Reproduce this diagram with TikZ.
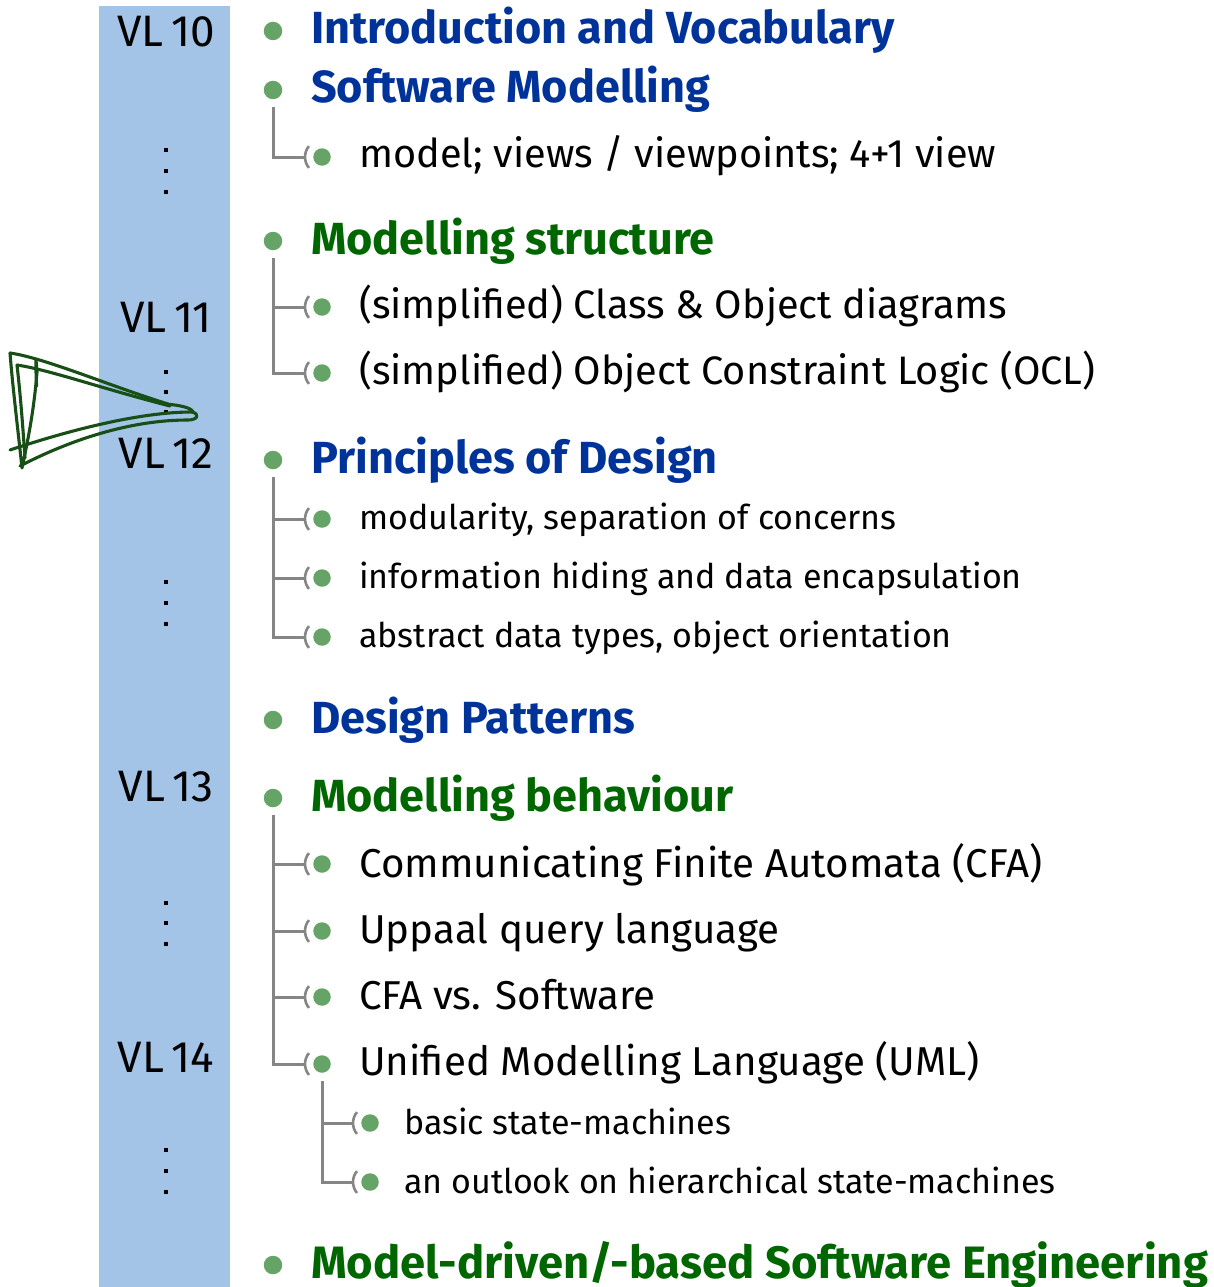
\documentclass[tikz,border=0pt]{standalone}
\usepackage{fontspec}
\setmainfont{Fira Sans}
\definecolor{bandblue}{HTML}{A3C4E6}
\definecolor{headblue}{HTML}{00339A}
\definecolor{headgreen}{HTML}{006600}
\definecolor{bulgreen}{HTML}{66A366}
\definecolor{treegray}{HTML}{858585}
\definecolor{scribgreen}{HTML}{174F17}
\newcommand{\fsz}[1]{\fontsize{#1}{#1}\selectfont}
\begin{document}
\begin{tikzpicture}[x=1pt,y=-1pt,
  bul/.style={circle,fill=bulgreen,inner sep=0pt,minimum size=18.5pt},
  sbul/.style={circle,fill=bulgreen,inner sep=0pt,minimum size=17.5pt},
  hb/.style={anchor=base west,inner sep=0pt,text=headblue,font=\fsz{45}\bfseries},
  hg/.style={anchor=base west,inner sep=0pt,text=headgreen,font=\fsz{45}\bfseries},
  ita/.style={anchor=base west,inner sep=0pt,text=black,font=\fsz{39.7}},
  itb/.style={anchor=base west,inner sep=0pt,text=black,font=\fsz{34}},
  itc/.style={anchor=base west,inner sep=0pt,text=black,font=\fsz{40.3}},
  vl/.style={anchor=base,inner sep=0pt,font=\fsz{44}},
  vdot/.style={rectangle,fill=black,inner sep=0pt,minimum size=4pt},
  tree/.style={draw=treegray,line width=3pt},
  paren/.style={draw=treegray,line width=2.6pt},
  scrib/.style={draw=scribgreen,line width=3.1pt,line cap=round,line join=round}]
\useasboundingbox (0,0) rectangle (1213,1287);
% band
\fill[bandblue] (99,6) rectangle (230,1287);
% VL labels
\node[vl] (vl10) at (166,47) {VL\,10};
\node[vl] (vl11) at (166,332) {VL\,11};
\node[vl] (vl12) at (166,468) {VL\,12};
\node[vl] (vl13) at (166,801) {VL\,13};
\node[vl] (vl14) at (166,1072) {VL\,14};
% dots
\foreach \y [count=\i] in {150,171,192, 372,392,412, 582,603,624, 903,923,944, 1150,1171,1192}
  \node[vdot] (d\i) at (166,\y) {};
% headings
\node[bul] (b1) at (273,31) {};
\node[hb] (h1) at (311,44) {Introduction and Vocabulary};
\node[bul] (b2) at (273,90) {};
\node[hb] (h2) at (311,103) {Software Modelling};
\node[bul] (b3) at (273,241) {};
\node[hg] (h3) at (311,254) {Modelling structure};
\node[bul] (b4) at (273,460) {};
\node[hb] (h4) at (311,473) {Principles of Design};
\node[bul] (b5) at (273,720) {};
\node[hb] (h5) at (311,733) {Design Patterns};
\node[bul] (b6) at (273,798) {};
\node[hg] (h6) at (311,811) {Modelling behaviour};
\node[bul] (b7) at (273,1265) {};
\node[hg,font=\fsz{45.4}\bfseries] (h7) at (311,1278) {Model-driven/-based Software Engineering};
% sub bullets
\foreach \n/\x/\y in {s1/322/157, s2/322/307, s3/322/373, s4/322/519, s5/322/578, s6/322/637,
  s7/322/864, s8/322/931, s9/322/997, s10/322/1064, s11/370/1123, s12/370/1182} {
  \node[sbul] (\n) at (\x,\y) {};
  \draw[paren] (\n.center) ++(140:17) arc[start angle=140,end angle=220,radius=17];
}
% sub texts
\node[ita] (t1) at (359,167) {model; views / viewpoints; 4+1 view};
\node[ita] (t2) at (359,318) {(simplified) Class \& Object diagrams};
\node[ita] (t3) at (359,384) {(simplified) Object Constraint Logic (OCL)};
\node[itb] (t4) at (359,529) {modularity, separation of concerns};
\node[itb] (t5) at (359,588) {information hiding and data encapsulation};
\node[itb] (t6) at (359,647) {abstract data types, object orientation};
\node[itc] (t7) at (359,877) {Communicating Finite Automata (CFA)};
\node[itc] (t8) at (359,943) {Uppaal query language};
\node[itc] (t9) at (359,1009) {CFA vs. Software};
\node[itc] (t10) at (359,1075) {Unified Modelling Language (UML)};
\node[itb] (t11) at (404,1134) {basic state-machines};
\node[itb] (t12) at (404,1193) {an outlook on hierarchical state-machines};
% tree connectors
\draw[tree] ([yshift=-8pt]b2.south) |- ([xshift=-17pt]s1.center);
\draw[tree] ([yshift=-8pt]b3.south) |- ([xshift=-17pt]s2.center);
\draw[tree] ([yshift=-8pt]b3.south) |- ([xshift=-17pt]s3.center);
\draw[tree] ([yshift=-8pt]b4.south) |- ([xshift=-17pt]s4.center);
\draw[tree] ([yshift=-8pt]b4.south) |- ([xshift=-17pt]s5.center);
\draw[tree] ([yshift=-8pt]b4.south) |- ([xshift=-17pt]s6.center);
\draw[tree] ([yshift=-8pt]b6.south) |- ([xshift=-17pt]s7.center);
\draw[tree] ([yshift=-8pt]b6.south) |- ([xshift=-17pt]s8.center);
\draw[tree] ([yshift=-8pt]b6.south) |- ([xshift=-17pt]s9.center);
\draw[tree] ([yshift=-8pt]b6.south) |- ([xshift=-17pt]s10.center);
\draw[tree] ([yshift=-8pt]s10.south) |- ([xshift=-17pt]s11.center);
\draw[tree] ([yshift=-8pt]s10.south) |- ([xshift=-17pt]s12.center);
% scribble
\draw[scrib] (168,404) .. controls (110,386) and (45,358) .. (10,353)
  .. controls (13,390) and (18,430) .. (22,468)
  .. controls (28,440) and (34,410) .. (37,372);
\draw[scrib] (170,406) .. controls (100,388) and (50,370) .. (17,365)
  .. controls (21,400) and (23,430) .. (25,458);
\draw[scrib] (10,450) .. controls (70,430) and (140,412) .. (192,412)
  .. controls (200,414) and (198,420) .. (188,420)
  .. controls (130,420) and (70,440) .. (20,466);
\draw[scrib] (165,404) .. controls (180,405) and (192,408) .. (193,412);
\draw[scrib] (37,372) .. controls (34,330) and (38,420) .. (36,372);
\end{tikzpicture}
\end{document}
